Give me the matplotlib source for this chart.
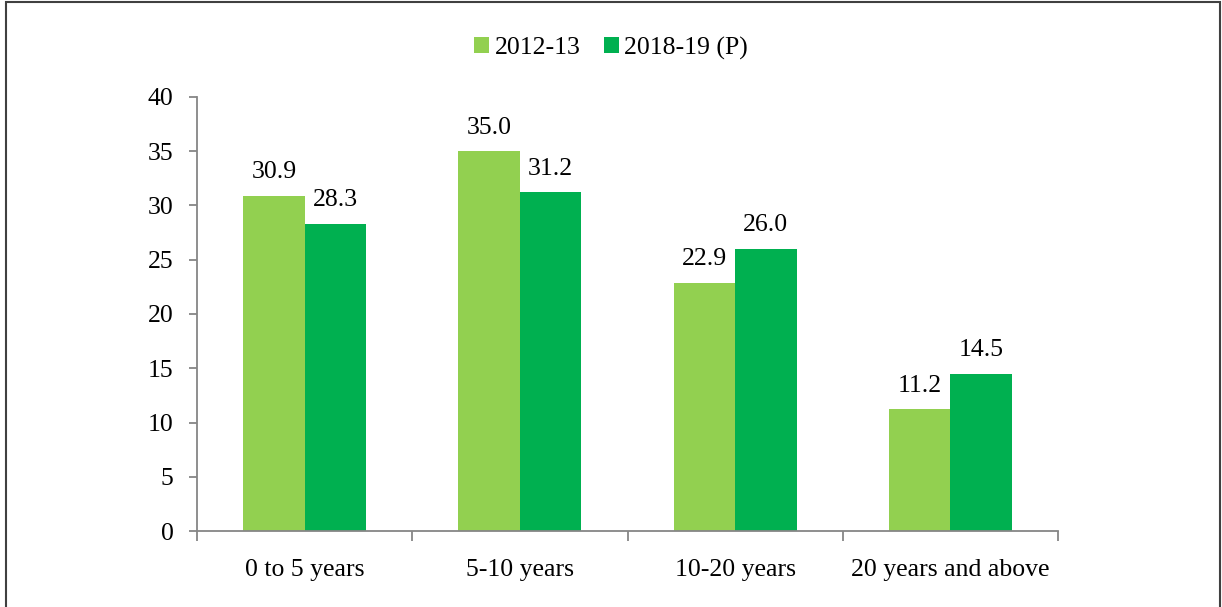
import numpy as np
import matplotlib.pyplot as plt
import matplotlib.patches as patches

plt.rcParams['font.family'] = ['Liberation Serif', 'DejaVu Serif']

categories = ['0 to 5 years', '5-10 years', '10-20 years', '20 years and above']
series_names = ['2012-13', '2018-19 (P)']
values_2012 = [30.9, 35.0, 22.9, 11.2]
values_2018 = [28.3, 31.2, 26.0, 14.5]
colors = ['#92D050', '#00B050']

fig = plt.figure(figsize=(12.22, 6.07), dpi=100)
fig.patch.set_facecolor('white')
ax = fig.add_axes([197 / 1222, 1 - 531 / 607, (1058 - 197) / 1222, (531 - 97) / 607])

x = np.arange(len(categories))
w = 0.286
b1 = ax.bar(x - w / 2, values_2012, w, color=colors[0], label=series_names[0])
b2 = ax.bar(x + w / 2, values_2018, w, color=colors[1], label=series_names[1])

for bars, vals in [(b1, values_2012), (b2, values_2018)]:
    for rect, v in zip(bars, vals):
        ax.annotate(f'{v:.1f}', (rect.get_x() + rect.get_width() / 2, v),
                    xytext=(0, 9), textcoords='offset points',
                    ha='center', va='bottom', fontsize=18.5)

ax.set_xlim(-0.5, len(categories) - 0.5)
ax.set_ylim(0, 40)
ax.set_yticks(range(0, 41, 5))

# category labels without ticks, boundary ticks at edges
ax.set_xticks(x)
ax.set_xticklabels(categories, fontsize=18.5)
ax.tick_params(axis='x', length=0, pad=20)
ax.set_xticks(np.arange(-0.5, len(categories), 1), minor=True)
ax.tick_params(axis='x', which='minor', length=7, width=1.3, color='#868686', direction='out')
ax.tick_params(axis='y', labelsize=18.5, length=6, width=1.3, color='#868686', direction='out', pad=11)

for s in ['top', 'right']:
    ax.spines[s].set_visible(False)
for s in ['left', 'bottom']:
    ax.spines[s].set_color('#868686')
    ax.spines[s].set_linewidth(1.3)

leg = fig.legend(loc='center', bbox_to_anchor=(0.5, 1 - 48 / 607), ncol=2, frameon=False,
                 fontsize=18.5, handlelength=0.6, handleheight=0.6, handletextpad=0.2,
                 columnspacing=0.9)

# outer frame
frame = patches.Rectangle((6 / 1222, -0.01), (1220 - 6) / 1222, 1 - 2 / 607 + 0.01,
                          transform=fig.transFigure, fill=False,
                          edgecolor='#404040', linewidth=1.5)
fig.patches.append(frame)

plt.savefig('out.png', dpi=100, facecolor='white')
